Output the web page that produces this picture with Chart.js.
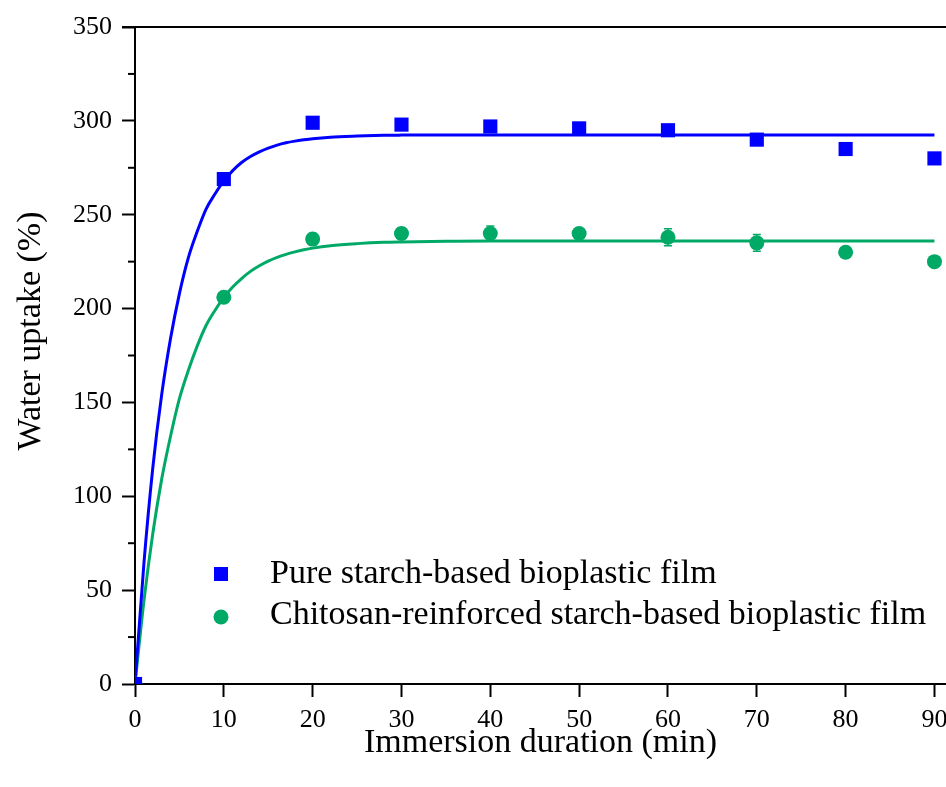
<!DOCTYPE html>
<html>
<head>
<meta charset="utf-8">
<script src="https://cdn.jsdelivr.net/npm/chart.js@4.4.1/dist/chart.umd.min.js"></script>
<style>
  html, body { margin: 0; padding: 0; background: #fff; }
  #wrap { width: 946px; height: 787px; }
</style>
</head>
<body>
<div id="wrap"><canvas id="grafico"></canvas></div>
<script>
// dados
var tempo = [0, 10, 20, 30, 40, 50, 60, 70, 80, 90];
var puro = [0, 269, 299, 298, 297, 296, 295, 290, 285, 280];
var puroErro = [0, 2, 2, 2, 2, 2, 2, 2, 2, 2];
var quitosana = [0, 206, 237, 240, 240, 240, 238, 235, 230, 225];
var quitosanaErro = [0, 2, 3, 3, 4, 3, 4.5, 4.5, 2, 2];

// curvas de ajuste
var tempoAjuste = [0, 1, 2, 3, 4, 5, 6, 7, 8, 9, 10, 11, 12, 13, 14, 15, 16, 17, 18, 19, 20, 22, 25, 28, 30, 35, 40, 50, 60, 70, 80, 90];
var puroAjuste = [0, 64, 115, 154, 184, 208, 227, 241, 253, 261, 268, 273.5, 277.8, 281, 283.5, 285.5, 287.1, 288.3, 289.2, 289.9, 290.5, 291.3, 291.9, 292.3, 292.4, 292.5, 292.5, 292.5, 292.5, 292.5, 292.5, 292.5];
var quitosanaAjuste = [0, 44, 80, 109, 132, 152, 167, 180, 191, 199, 206, 211.5, 216, 219.8, 222.8, 225.3, 227.3, 228.9, 230.2, 231.3, 232.2, 233.5, 234.6, 235.3, 235.5, 235.8, 236, 236, 236, 236, 236, 236];

var ticksX = [0, 10, 20, 30, 40, 50, 60, 70, 80, 90];
var legendas = ['Pure starch-based bioplastic film', 'Chitosan-reinforced starch-based bioplastic film'];
var tituloY = 'Water uptake (%)';
var tituloX = 'Immersion duration (min)';

var azul = '#0000FF';
var verde = '#00AA66';
var fonte = 'Liberation Serif, Times New Roman, serif';

function pares(xs, ys) {
  var out = [];
  for (var i = 0; i < xs.length; i++) out.push({ x: xs[i], y: ys[i] });
  return out;
}

// desenha moldura de cima, ticks menores, barras de erro, legenda e titulo Y
var extras = {
  id: 'extras',
  afterDatasetsDraw: function (chart) {
    var ctx = chart.ctx;
    var a = chart.chartArea;
    var sx = chart.scales.x, sy = chart.scales.y;
    ctx.save();
    ctx.strokeStyle = '#000';
    ctx.lineWidth = 2;
    ctx.beginPath();
    ctx.moveTo(a.left - 13, a.top);
    ctx.lineTo(a.right, a.top);
    ctx.stroke();
    for (var v = 25; v < 350; v += 50) {
      var py = sy.getPixelForValue(v);
      ctx.beginPath();
      ctx.moveTo(a.left - 7, py);
      ctx.lineTo(a.left, py);
      ctx.stroke();
    }
    // barras de erro
    var series = [[puro, puroErro, azul], [quitosana, quitosanaErro, verde]];
    series.forEach(function (s) {
      ctx.strokeStyle = s[2];
      ctx.lineWidth = 1.5;
      for (var i = 1; i < tempo.length; i++) {
        var px = sx.getPixelForValue(tempo[i]);
        var y1 = sy.getPixelForValue(s[0][i] - s[1][i]);
        var y2 = sy.getPixelForValue(s[0][i] + s[1][i]);
        ctx.beginPath();
        ctx.moveTo(px, y1); ctx.lineTo(px, y2);
        ctx.moveTo(px - 4, y1); ctx.lineTo(px + 4, y1);
        ctx.moveTo(px - 4, y2); ctx.lineTo(px + 4, y2);
        ctx.stroke();
      }
    });
    // legenda
    ctx.font = '34px ' + fonte;
    ctx.textBaseline = 'middle';
    ctx.fillStyle = azul;
    ctx.fillRect(214, 567, 14, 14);
    ctx.fillStyle = '#000';
    ctx.fillText(legendas[0], 270, 574);
    ctx.fillStyle = verde;
    ctx.beginPath();
    ctx.arc(221, 617, 7.5, 0, Math.PI * 2);
    ctx.fill();
    ctx.fillStyle = '#000';
    ctx.fillText(legendas[1], 270, 615);
    // titulo do eixo Y
    ctx.translate(31, 331);
    ctx.rotate(-Math.PI / 2);
    ctx.textAlign = 'center';
    ctx.fillText(tituloY, 0, 0);
    ctx.restore();
  }
};

var ctx = document.getElementById('grafico').getContext('2d');
var chart = new Chart(ctx, {
  type: 'scatter',
  data: {
    datasets: [
      {
        label: legendas[0],
        data: pares(tempo, puro),
        pointStyle: 'rect',
        pointRadius: 10,
        backgroundColor: azul,
        borderColor: azul,
        borderWidth: 0,
        order: 1
      },
      {
        label: legendas[1],
        data: pares(tempo, quitosana),
        pointStyle: 'circle',
        pointRadius: 7.5,
        backgroundColor: verde,
        borderColor: verde,
        borderWidth: 0,
        order: 1
      },
      {
        label: 'ajuste puro',
        data: pares(tempoAjuste, puroAjuste),
        showLine: true,
        pointRadius: 0,
        borderColor: azul,
        borderWidth: 3,
        cubicInterpolationMode: 'monotone',
        order: 2
      },
      {
        label: 'ajuste quitosana',
        data: pares(tempoAjuste, quitosanaAjuste),
        showLine: true,
        pointRadius: 0,
        borderColor: verde,
        borderWidth: 3,
        cubicInterpolationMode: 'monotone',
        order: 2
      }
    ]
  },
  options: {
    responsive: true,
    maintainAspectRatio: false,
    animation: false,
    layout: { autoPadding: false, padding: { top: 27, right: 0, left: 0, bottom: 0 } },
    plugins: {
      legend: { display: false },
      tooltip: { enabled: false }
    },
    scales: {
      x: {
        type: 'linear',
        min: 0,
        max: 91.3,
        afterBuildTicks: function (scale) {
          scale.ticks = ticksX.map(function (v) { return { value: v }; });
        },
        afterFit: function (scale) {
          scale.height = 103;
          scale.paddingLeft = 0;
          scale.paddingRight = 0;
        },
        ticks: {
          color: '#000',
          font: { family: fonte, size: 26 },
          padding: 8,
          maxRotation: 0
        },
        grid: { drawOnChartArea: false, drawTicks: true, tickLength: 13, tickWidth: 2, tickColor: '#000' },
        border: { color: '#000', width: 2 },
        title: {
          display: true,
          text: tituloX,
          color: '#000',
          font: { family: fonte, size: 34 },
          padding: { top: 0, bottom: 24 }
        }
      },
      y: {
        min: 0,
        max: 350,
        afterFit: function (scale) {
          scale.width = 135;
          scale.paddingTop = 0;
          scale.paddingBottom = 0;
        },
        ticks: {
          stepSize: 50,
          color: '#000',
          font: { family: fonte, size: 26 },
          padding: 10
        },
        grid: { drawOnChartArea: false, drawTicks: true, tickLength: 13, tickWidth: 2, tickColor: '#000' },
        border: { color: '#000', width: 2 }
      }
    }
  },
  plugins: [extras]
});
</script>
</body>
</html>
